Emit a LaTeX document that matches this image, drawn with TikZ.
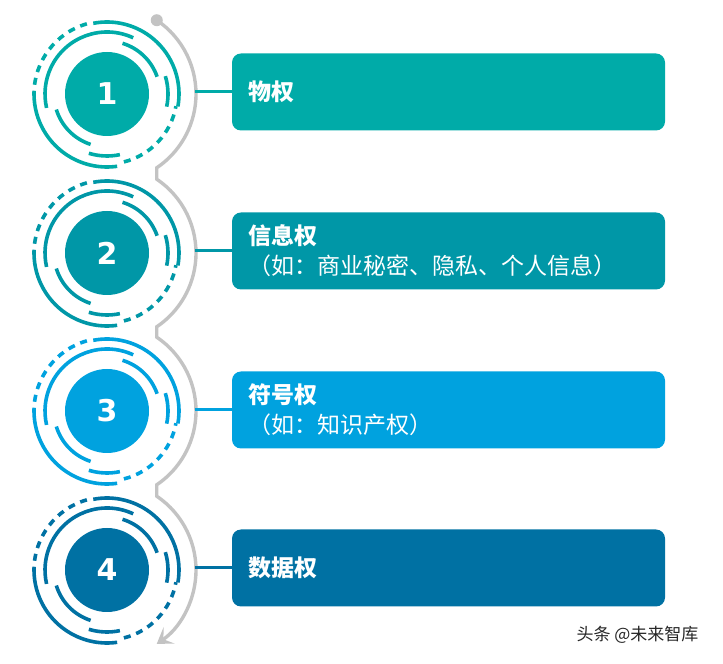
\documentclass[tikz,border=0pt]{standalone}
\usepackage{fontspec}
\newfontfamily\cjk{Noto Sans CJK SC}
\newfontfamily\digits{DejaVu Sans}
\usetikzlibrary{calc,arrows.meta}
\definecolor{sea}{HTML}{00ABA8}
\definecolor{lagoon}{HTML}{0097A7}
\definecolor{sky}{HTML}{00A2DF}
\definecolor{ocean}{HTML}{0071A3}
\definecolor{track}{HTML}{C3C3C3}
\tikzset{
    pics/rings/.style={
        code={
            \fill[#1] (0,0) circle[radius=42];
            \draw[#1, ring] (65:62) arc[start angle=65, end angle=193, radius=62];
            \draw[#1, ring] (197:53) arc[start angle=197, end angle=252, radius=53];
            \draw[#1, ring] (253:62) arc[start angle=253, end angle=282, radius=62];
            \draw[#1, ring] (-12:61) arc[start angle=-12, end angle=17, radius=61];
            \draw[#1, ring] (19:53) arc[start angle=19, end angle=73, radius=53];
            \draw[#1, ring] (-10:72) arc[start angle=-10, end angle=101, radius=72];
            \draw[#1, ring, dash pattern=on 7pt off 6pt] (106:73) arc[start angle=106, end angle=180, radius=73];
            \draw[#1, ring] (180:73) arc[start angle=180, end angle=278, radius=73];
            \draw[#1, ring, dash pattern=on 7pt off 6pt] (284:70) arc[start angle=284, end angle=350, radius=70];
        }
    },
    ring/.style={line width=3.6pt},
    card/.style={rounded corners=9pt, minimum height=77pt, text width=401pt,
        inner xsep=16pt, inner ysep=0pt, align=left, text=white,
        font=\cjk\fontsize{23}{30}\selectfont},
    link/.style={line width=3pt},
    num/.style={text=white, font=\digits\bfseries\fontsize{30}{30}\selectfont},
    path line/.style={draw=track, line width=3.4pt},
}
\begin{document}
\begin{tikzpicture}[x=1pt, y=1pt]
    \useasboundingbox (0,0) rectangle (723,664);
    \coordinate (c1) at (107,570);
    \coordinate (c2) at (107,411);
    \coordinate (c3) at (107,253);
    \coordinate (c4) at (107,94);
    % grey track round the circles
    \fill[track] ($(c1)+(56:89)$) circle[radius=6];
    \draw[path line, -{Stealth[length=15pt, width=20pt, inset=7pt]}]
        ($(c1)+(56:89)$) arc[start angle=56, end angle=-56, radius=89]
        -- ($(c2)+(56:89)$) arc[start angle=56, end angle=-56, radius=89]
        -- ($(c3)+(56:89)$) arc[start angle=56, end angle=-56, radius=89]
        -- ($(c4)+(56:89)$) arc[start angle=56, end angle=-56, radius=89];
    \pic at (c1) {rings=sea};
    \pic at (c2) {rings=lagoon};
    \pic at (c3) {rings=sky};
    \pic at (c4) {rings=ocean};
    \node[num] (n1) at (c1) {1};
    \node[num] (n2) at (c2) {2};
    \node[num] (n3) at (c3) {3};
    \node[num] (n4) at (c4) {4};
    \node[card, fill=sea] (b1) at (448.5,572) {\textbf{物权}};
    \node[card, fill=lagoon] (b2) at (448.5,413) {\textbf{信息权}\\（如：商业秘密、隐私、个人信息）};
    \node[card, fill=sky] (b3) at (448.5,254) {\textbf{符号权}\\（如：知识产权）};
    \node[card, fill=ocean] (b4) at (448.5,96) {\textbf{数据权}};
    \coordinate (g1) at ($(c1)+(88,2)$);
    \coordinate (g2) at ($(c2)+(88,2)$);
    \coordinate (g3) at ($(c3)+(88,1)$);
    \coordinate (g4) at ($(c4)+(88,2)$);
    \draw[link, sea] (g1) -- (b1.west);
    \draw[link, lagoon] (g2) -- (b2.west);
    \draw[link, sky] (g3) -- (b3.west);
    \draw[link, ocean] (g4) -- (b4.west);
    \node[anchor=west, text=black!85, font=\cjk\fontsize{17}{17}\selectfont] (mark) at (573,29) {头条 @未来智库};
\end{tikzpicture}
\end{document}
